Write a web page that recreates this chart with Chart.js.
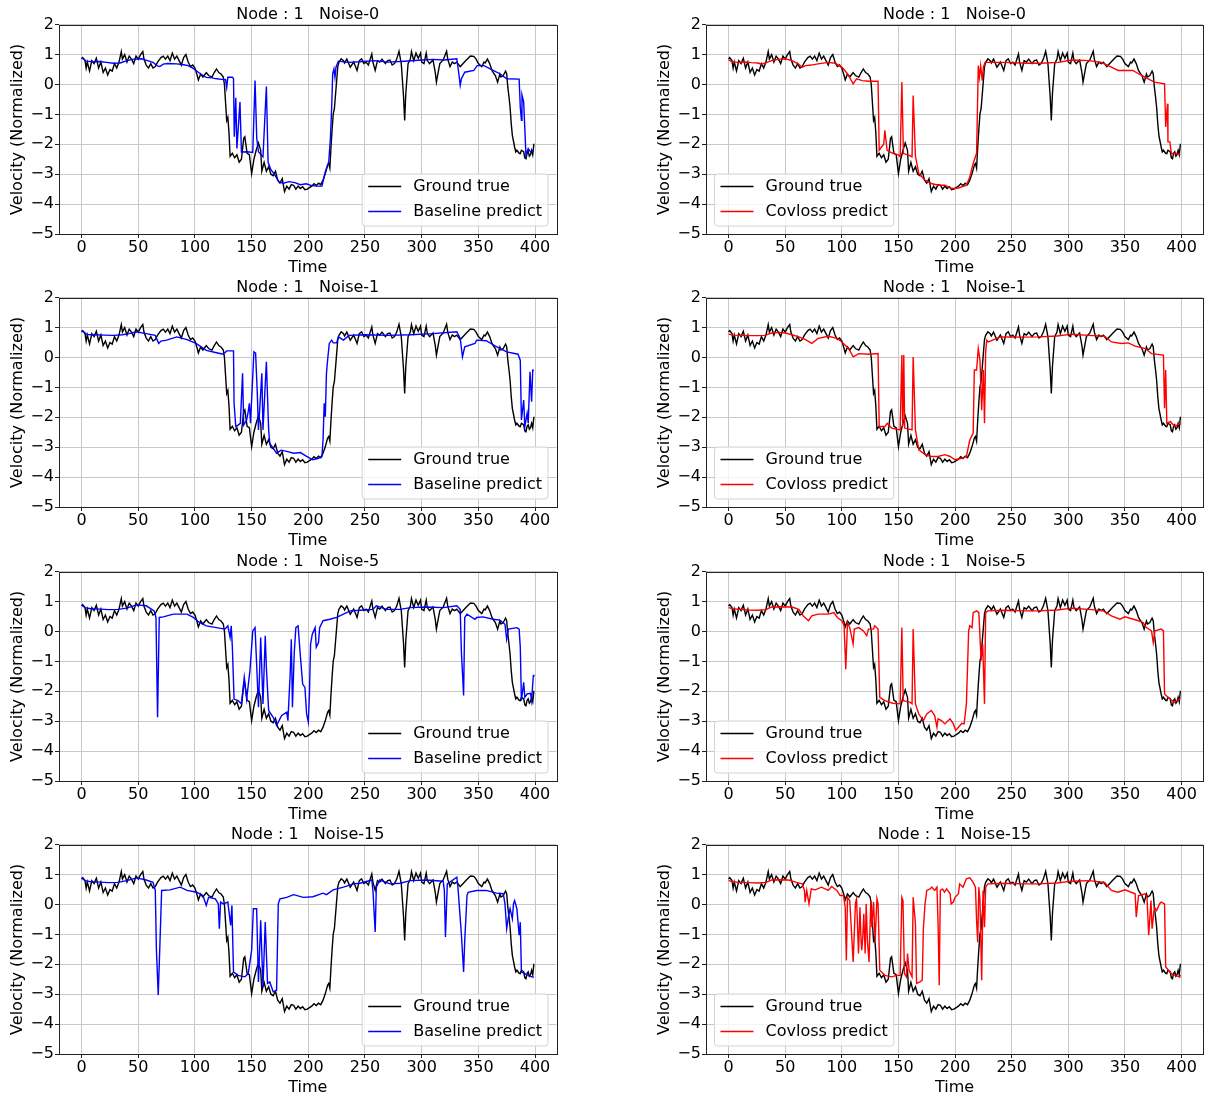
<!DOCTYPE html>
<html>
<head>
<meta charset="utf-8">
<title>Node 1 velocity predictions</title>
<script src="https://cdn.jsdelivr.net/npm/chart.js@4.4.1/dist/chart.umd.min.js"></script>
<style>
  body { margin: 0; background: #fff; width: 1208px; height: 1097px; overflow: hidden; position: relative; }
  canvas { position: absolute; }
</style>
</head>
<body>
<script>
// tick labels
const timeTicks = [0, 50, 100, 150, 200, 250, 300, 350, 400];
const velTicks = [-5, -4, -3, -2, -1, 0, 1, 2];

// [time, velocity] pairs
const groundTrue = [[0,0.85],[1,0.9],[3,0.8],[4,0.55],[5,0.75],[7,0.45],[9,0.8],[11,0.7],[13,0.88],[15,0.55],[17,0.75],[19,0.4],[21,0.55],[23,0.32],[25,0.5],[27,0.45],[29,0.7],[31,0.55],[33,0.75],[35,1.1],[36,0.85],[38,1.0],[40,0.75],[42,0.95],[44,0.85],[46,0.7],[48,0.95],[50,0.85],[52,1.0],[54,1.1],[55,0.85],[57,0.65],[59,0.55],[61,0.7],[63,0.55],[65,0.6],[67,0.75],[70,0.9],[72,0.95],[74,0.85],[76,0.95],[78,0.8],[80,1.05],[82,0.85],[84,0.95],[86,0.8],[88,0.65],[90,0.9],[92,1.0],[94,0.75],[96,0.6],[98,0.65],[100,0.55],[102,0.3],[103,0.15],[105,0.35],[107,0.25],[110,0.4],[112,0.3],[115,0.25],[117,0.4],[119,0.52],[121,0.4],[123,0.35],[125,0.25],[126,0.0],[127,-0.6],[128,-1.2],[129,-1.1],[130,-1.6],[131,-2.4],[133,-2.3],[135,-2.45],[137,-2.35],[139,-2.6],[141,-2.5],[143,-1.8],[144,-1.75],[146,-2.3],[148,-2.35],[150,-2.98],[152,-2.5],[154,-2.2],[156,-1.95],[158,-2.2],[159,-2.9],[161,-2.6],[163,-2.9],[165,-2.75],[167,-3.0],[169,-3.05],[171,-2.9],[173,-3.2],[175,-3.3],[177,-3.15],[179,-3.58],[181,-3.4],[183,-3.5],[185,-3.35],[187,-3.37],[189,-3.5],[191,-3.4],[193,-3.48],[195,-3.42],[197,-3.52],[199,-3.5],[201,-3.45],[203,-3.4],[205,-3.32],[207,-3.38],[209,-3.3],[211,-3.35],[213,-3.2],[215,-2.98],[217,-2.7],[218,-2.64],[219,-2.8],[220,-2.1],[221,-1.5],[222,-0.98],[223,-0.81],[225,0.13],[226,0.6],[227,0.74],[229,0.86],[231,0.8],[232,0.72],[234,0.85],[237,0.58],[240,0.75],[243,0.47],[245,0.8],[247,0.86],[249,0.7],[251,0.75],[253,0.65],[256,1.02],[257,0.75],[259,0.47],[261,0.8],[263,0.75],[265,0.85],[268,0.7],[270,0.8],[272,0.82],[274,0.65],[276,0.7],[278,0.85],[280,1.11],[282,0.7],[284,-0.4],[285,-1.2],[286,-0.3],[288,0.7],[290,0.85],[291,1.1],[293,0.8],[295,1.05],[297,0.88],[299,1.05],[300,0.75],[302,0.7],[304,1.05],[305,0.8],[307,0.7],[310,0.82],[312,0.4],[313,0.08],[315,0.5],[316,0.7],[319,0.82],[322,1.11],[323,0.85],[325,0.6],[327,0.75],[329,0.7],[331,0.75],[334,0.6],[337,0.72],[339,0.8],[341,0.88],[343,0.95],[346,0.94],[348,0.85],[350,0.7],[353,0.6],[355,0.75],[356,0.72],[358,0.85],[360,0.7],[362,0.47],[364,0.35],[365,0.3],[367,0.08],[369,0.35],[370,0.25],[372,0.3],[374,0.45],[375,0.36],[376,-0.09],[377,-0.4],[378,-0.76],[379,-1.3],[380,-1.7],[382,-2.09],[383,-2.25],[384,-2.2],[386,-2.3],[387,-2.31],[388,-2.2],[390,-2.25],[391,-2.45],[392,-2.48],[393,-2.3],[394,-2.25],[395,-2.4],[396,-2.35],[397,-2.2],[398,-2.35],[399,-1.98]];

const baseNoise0 = [[0,0.9],[2,0.85],[4,0.78],[10,0.76],[16,0.77],[22,0.74],[28,0.71],[34,0.72],[40,0.8],[46,0.85],[53,0.86],[58,0.8],[63,0.74],[67,0.62],[69,0.6],[72,0.68],[76,0.7],[84,0.69],[90,0.66],[94,0.63],[98,0.55],[101,0.47],[105,0.35],[110,0.24],[115,0.22],[119,0.19],[124,0.17],[127,0.16],[128,-0.1],[129,0.24],[133,0.24],[134,0.2],[134.7,-1.75],[136,-0.44],[137,-2.14],[139.7,-0.59],[141,-2.26],[146,-2.25],[151,-2.27],[153,0.13],[154.5,-1.8],[156,-2.25],[160,-2.42],[163,-0.07],[164.5,-2.6],[167,-2.85],[170,-3.0],[174,-3.25],[178,-3.3],[183,-3.25],[188,-3.28],[193,-3.35],[198,-3.32],[203,-3.38],[208,-3.4],[212,-3.4],[215,-2.92],[218,-2.59],[219.5,-1.8],[220.6,-0.76],[221.5,0.36],[222.6,0.52],[223.5,0.24],[224.4,0.58],[226.5,0.78],[235,0.74],[245,0.76],[258,0.8],[270,0.75],[285,0.78],[300,0.82],[310,0.84],[320,0.82],[331,0.86],[333,0.3],[334,-0.03],[335,0.19],[338,0.41],[346,0.47],[349,0.63],[355,0.63],[363,0.47],[369,0.36],[375,0.19],[386,0.18],[387,-0.76],[388,-1.2],[388.5,-0.35],[390,-0.59],[392,-2.37],[394,-2.14],[396,-2.25],[399,-2.2]];

const covNoise0 = [[0,0.82],[3,0.76],[8,0.74],[14,0.75],[20,0.73],[26,0.72],[29,0.68],[34,0.74],[38,0.8],[44,0.84],[50,0.86],[56,0.8],[61,0.7],[65,0.58],[68,0.63],[73,0.65],[79,0.69],[88,0.74],[94,0.71],[100,0.58],[103,0.45],[106,0.3],[110,0.02],[113,0.19],[118,0.13],[124,0.11],[132,0.11],[133,-2.2],[135,-2.09],[137,-2.0],[138,-1.53],[140,-2.2],[145,-2.3],[150,-2.35],[151.5,-2.42],[153,0.08],[154.4,-2.31],[159,-2.36],[162,-2.42],[163,-0.37],[165,-2.4],[168,-2.98],[173.5,-3.2],[179,-3.31],[185,-3.37],[191,-3.37],[197,-3.48],[203,-3.46],[210,-3.37],[213,-3.09],[216,-2.64],[219,-2.3],[220.5,0.63],[221.5,0.24],[222.6,0.63],[224,0.13],[225,0.58],[226.5,0.74],[244,0.74],[262,0.71],[275,0.71],[291,0.74],[303,0.82],[318,0.8],[329,0.74],[338,0.58],[344,0.47],[357,0.47],[362,0.36],[368,0.24],[376,0.08],[385,0.02],[386,-1.42],[387.6,-0.64],[388,-1.92],[389.7,-1.92],[391,-2.31],[396,-2.31],[399,-2.35]];

const baseNoise1 = [[0,0.9],[2,0.85],[5,0.77],[12,0.76],[20,0.75],[28,0.74],[36,0.76],[42,0.8],[48,0.86],[57,0.8],[65,0.74],[68,0.47],[70,0.55],[75,0.58],[84,0.69],[93,0.6],[101,0.47],[110,0.24],[119,0.16],[125,0.11],[128,0.22],[134,0.22],[134.5,-1.53],[136,-2.31],[138,-2.26],[140,-2.2],[142,-0.53],[143,-2.26],[145.6,-2.09],[147,-1.8],[148,-1.53],[149,-2.2],[150.5,-1.0],[152,0.19],[153.5,0.15],[155,-1.2],[156,-2.42],[159,-0.53],[160,-2.42],[163,-0.14],[165,-2.42],[166,-2.87],[172,-3.2],[176,-3.1],[181,-3.14],[187,-3.2],[193,-3.18],[198.5,-3.31],[204,-3.42],[209,-3.37],[212,-3.31],[213,-2.76],[214,-1.53],[215,-1.98],[216,-0.53],[217,-0.09],[218.5,0.47],[220.6,0.58],[222,0.49],[225,0.49],[226.5,0.69],[231,0.58],[236,0.74],[250,0.76],[270,0.74],[290,0.76],[310,0.8],[331,0.86],[334,0.64],[336,0.02],[338,0.36],[347,0.47],[348.5,0.58],[357,0.56],[366,0.36],[375,0.19],[385,0.11],[387,-0.09],[388,-2.09],[390,-1.42],[391,-2.31],[393,-1.87],[394,-2.2],[395.6,-0.48],[397,-1.48],[398,-0.42],[399,-0.44]];

const covNoise1 = [[0,0.78],[4,0.75],[10,0.74],[18,0.73],[26,0.73],[32,0.74],[38,0.82],[44,0.84],[50,0.82],[56,0.76],[62,0.69],[68,0.6],[73.5,0.47],[79,0.64],[88,0.71],[96,0.64],[100,0.52],[106,0.3],[110,0.02],[115,0.13],[124,0.11],[132,0.13],[133,-2.31],[138,-2.31],[140,-2.2],[144,-2.36],[151.5,-2.42],[153,0.08],[153.8,-2.31],[154.7,0.08],[155.5,-2.36],[162,-2.42],[163,0.02],[165,-2.42],[168,-3.09],[173.5,-3.25],[179,-3.31],[185,-3.31],[191,-3.25],[195.6,-3.31],[200,-3.42],[206,-3.37],[210,-3.31],[213,-2.76],[216,-2.53],[217,-0.42],[219,-0.42],[220.5,0.3],[222,-0.09],[223.5,-1.76],[225,-0.42],[226,-2.2],[227,0.19],[228,0.58],[229.4,0.52],[240,0.69],[260,0.68],[273.5,0.69],[290,0.72],[303,0.78],[318,0.74],[332,0.71],[338,0.52],[347,0.47],[353,0.49],[359,0.38],[368,0.3],[373.5,0.13],[384,0.08],[385,-1.7],[386,-0.42],[387,-2.2],[390,-2.14],[394,-2.31],[398.5,-2.2],[399,-2.25]];

const baseNoise5 = [[0,0.89],[3,0.8],[8,0.76],[16,0.75],[24,0.73],[32,0.74],[40,0.78],[48.5,0.89],[57,0.86],[64,0.69],[65.6,0.47],[67,-2.87],[68.5,0.47],[72,0.49],[81,0.58],[93,0.58],[98.5,0.47],[104,0.3],[110,0.19],[119,0.13],[126.5,0.08],[129,0.19],[131,-0.2],[132,0.19],[133,-0.53],[134.5,-2.26],[138,-2.31],[141,-2.42],[143.5,-1.53],[145.6,-2.26],[148.5,-1.31],[151,0.02],[153,0.13],[154.4,-1.09],[156,-2.53],[158,-0.2],[160,-2.42],[162,-0.14],[163,-1.2],[165,-2.64],[169,-2.87],[172,-3.14],[176.5,-2.81],[181,-2.7],[182,-2.98],[184,-1.42],[185,-0.26],[186,-2.53],[187.6,-0.7],[189,0.13],[191,0.19],[192.6,-0.64],[195,-1.76],[197,-1.87],[198.5,-2.76],[200,-3.03],[201,-2.09],[202,-0.42],[203.5,-0.09],[206,0.13],[207,-0.53],[209,-0.37],[210,0.13],[213,0.36],[219,0.41],[225,0.47],[231,0.58],[237,0.69],[245.6,0.71],[257,0.74],[260,0.86],[269,0.74],[281,0.74],[290,0.8],[304,0.82],[319,0.8],[331,0.86],[334,0.74],[335,-0.64],[337,-2.14],[338,0.47],[340,0.58],[347,0.41],[348.5,0.47],[354,0.49],[363,0.41],[369,0.38],[373.5,0.24],[375,-0.26],[376.5,0.08],[384,0.13],[386,0.08],[387,-0.53],[388,-2.31],[390,-1.7],[391,-2.2],[393,-2.09],[396,-2.07],[397,-2.31],[398.5,-1.48],[399,-1.45]];

const covNoise5 = [[0,0.8],[4,0.76],[10,0.74],[18,0.72],[26,0.71],[33,0.73],[38,0.82],[46,0.83],[56,0.82],[62,0.74],[66,0.52],[70.6,0.36],[73.5,0.52],[79,0.58],[88,0.58],[93,0.63],[96,0.47],[100,0.36],[102,0.19],[103.5,-1.26],[105,0.3],[107,0.13],[110,-0.42],[111,0.08],[115,0.13],[119,0.02],[122,-0.14],[123.5,0.08],[128,0.08],[129,0.19],[132,0.08],[133.5,-2.2],[138,-2.31],[145,-2.4],[151.5,-2.42],[153,0.13],[154.2,-2.31],[160,-2.36],[162,-2.42],[163,0.08],[165,-2.42],[168,-2.76],[172,-2.98],[175,-2.76],[179,-2.64],[182,-2.81],[184,-3.2],[185,-2.92],[188,-2.98],[191,-3.09],[195.6,-2.92],[198.5,-3.09],[200.6,-3.31],[203,-3.2],[206,-3.07],[208,-3.09],[210,-2.42],[212,0.02],[213,0.19],[215,0.13],[216,0.63],[219,0.69],[221,0.63],[223,-0.98],[224.4,-0.42],[226,-2.42],[227,0.63],[229,0.69],[244,0.71],[260,0.69],[273.5,0.69],[290,0.72],[303,0.78],[318,0.74],[331,0.69],[338,0.52],[345.6,0.41],[350,0.49],[362,0.36],[366,0.3],[369,0.13],[373.5,0.02],[375,-0.37],[376.5,0.02],[382,0.08],[384,0.02],[385,-2.09],[389.7,-2.26],[394,-2.37],[398.5,-2.25],[399,-2.25]];

const baseNoise15 = [[0,0.89],[3,0.8],[8,0.76],[16,0.75],[24,0.73],[32,0.74],[40,0.8],[48.5,0.89],[57,0.82],[63,0.74],[65,0.47],[66,-1.53],[67.6,-3.03],[69,-1.42],[70.6,0.47],[78,0.49],[87,0.58],[93,0.47],[101.5,0.41],[107,0.3],[110,-0.03],[112,0.24],[118,0.19],[120.6,0.02],[121.5,-0.81],[122.6,0.08],[125,0.02],[129,0.08],[131.5,-0.7],[132.6,-0.03],[134,-2.26],[138,-2.37],[144,-2.42],[147,-2.31],[150,-1.53],[151.5,-0.14],[154.4,-0.14],[156,-2.59],[158,-0.53],[160,-2.76],[162,-0.59],[164,-2.64],[166,-2.59],[169,-2.92],[172,-2.87],[173.5,0.02],[175,0.19],[181,0.24],[187,0.33],[195.6,0.24],[204,0.26],[213,0.38],[216,0.33],[222,0.49],[231,0.58],[240,0.69],[245.6,0.71],[256,0.82],[257,0.47],[259,-0.92],[260,0.58],[263,0.82],[272,0.69],[281,0.71],[290,0.8],[304,0.82],[319,0.78],[320,0.47],[321,-1.09],[322.6,0.69],[331,0.91],[332,0.58],[335,-0.98],[337,-2.26],[338,-1.2],[340,0.3],[341,0.41],[348.5,0.47],[357,0.47],[366,0.38],[372,0.36],[373.5,0.02],[375,-0.81],[376.5,-0.42],[378,-0.14],[380,-0.48],[381,0.02],[382,0.13],[384,-0.14],[386,-1.03],[387,-0.59],[388,-2.26],[391,-2.31],[394,-2.37],[397,-2.42],[399,-2.42]];

const covNoise15 = [[0,0.8],[4,0.76],[10,0.74],[18,0.73],[26,0.72],[33,0.74],[38,0.82],[46,0.83],[53,0.82],[60,0.74],[65,0.69],[67,0.47],[67.6,0.08],[69,0.47],[71,0.02],[73,0.52],[76.5,0.49],[82,0.58],[88,0.47],[91,0.6],[95.6,0.47],[98.5,0.3],[101.5,0.3],[103,-0.09],[104,-1.87],[105,0.24],[107,0.13],[110,-1.92],[112,0.02],[113,0.19],[114.7,-1.64],[116,-0.09],[117,-1.2],[117.6,-1.53],[118.5,-1.09],[119.4,-0.31],[120.6,-1.64],[121.5,0.02],[122.6,-1.2],[124,-1.92],[125.6,0.13],[126.5,-0.76],[128,0.08],[129.4,-1.2],[131,0.19],[132,0.02],[133.5,-2.2],[138,-2.37],[144,-2.42],[148.5,-2.37],[151.5,-2.37],[153,0.24],[154,0.13],[155.3,-2.31],[157,-2.42],[158,-1.64],[159.4,-2.2],[162,-2.42],[163,0.24],[165,-0.64],[166,-2.64],[169,-2.59],[171,-2.53],[172,-0.81],[173.5,0.02],[175,0.47],[178,0.52],[179.4,0.58],[182,0.47],[184,0.58],[185,-0.64],[186,-2.7],[187,0.47],[189,0.52],[190.6,0.41],[192.6,0.52],[195.6,0.36],[196.5,0.02],[198.5,0.08],[200,0.24],[203,0.36],[204,0.69],[207,0.58],[210,0.86],[213,0.89],[216,0.74],[218,0.58],[219,-0.53],[220,-1.26],[221,0.58],[222,0.13],[223.5,-2.53],[224.7,0.47],[226,-0.76],[227,0.58],[229,0.69],[244,0.71],[260,0.69],[273.5,0.69],[290,0.72],[303,0.78],[318,0.8],[332,0.74],[338,0.47],[344,0.41],[350,0.49],[359,0.36],[360,-0.42],[362,0.3],[368,0.36],[369.5,0.24],[371,-1.03],[373,0.13],[374,-0.81],[376,-0.09],[378,-0.2],[380.5,0.02],[382,0.08],[385,0.02],[386,-2.09],[391,-2.31],[394,-2.37],[398.5,-2.42],[399,-2.35]];

const panels = [
  { title: 'Node : 1   Noise-0',  name: 'Baseline predict', color: '#0000ff', values: baseNoise0 },
  { title: 'Node : 1   Noise-0',  name: 'Covloss predict',  color: '#ff0000', values: covNoise0 },
  { title: 'Node : 1   Noise-1',  name: 'Baseline predict', color: '#0000ff', values: baseNoise1 },
  { title: 'Node : 1   Noise-1',  name: 'Covloss predict',  color: '#ff0000', values: covNoise1 },
  { title: 'Node : 1   Noise-5',  name: 'Baseline predict', color: '#0000ff', values: baseNoise5 },
  { title: 'Node : 1   Noise-5',  name: 'Covloss predict',  color: '#ff0000', values: covNoise5 },
  { title: 'Node : 1   Noise-15', name: 'Baseline predict', color: '#0000ff', values: baseNoise15 },
  { title: 'Node : 1   Noise-15', name: 'Covloss predict',  color: '#ff0000', values: covNoise15 }
];

Chart.defaults.font.family = "'DejaVu Sans'";
Chart.defaults.font.size = 16;
Chart.defaults.color = '#000';

const FONT = { family: "'DejaVu Sans'", size: 16 };
const rowTops = [0, 273, 547, 820];

function toPoints(arr) {
  return arr.map(p => ({ x: p[0], y: p[1] }));
}

// black frame round the plot area
const spines = {
  id: 'spines',
  afterDatasetsDraw(chart) {
    const a = chart.chartArea, ctx = chart.ctx;
    ctx.save();
    ctx.strokeStyle = '#222';
    ctx.lineWidth = 1;
    ctx.strokeRect(Math.round(a.left) + 0.5, Math.round(a.top) + 0.5,
      Math.round(a.right - a.left), Math.round(a.bottom - a.top));
    ctx.restore();
  }
};

// framed legend inside the plot, lower right or lower left
function boxLegend(side) {
  return {
    id: 'boxLegend',
    afterDraw(chart) {
      const a = chart.chartArea, ctx = chart.ctx;
      const items = chart.data.datasets.map(d => ({ label: d.label, color: d.borderColor }));
      ctx.save();
      ctx.font = "16px 'DejaVu Sans'";
      const textW = Math.max(...items.map(it => ctx.measureText(it.label).width));
      const w = 51 + textW + 6, h = 52;
      const x = side === 'right' ? a.right - 8.5 - w : a.left + 8.5;
      const y = a.bottom - 8 - h;
      ctx.beginPath();
      ctx.roundRect(x, y, w, h, 3);
      ctx.fillStyle = 'rgba(255,255,255,0.8)';
      ctx.fill();
      ctx.strokeStyle = '#d4d4d4';
      ctx.lineWidth = 1;
      ctx.stroke();
      items.forEach((it, i) => {
        const cy = y + 12.5 + i * 25;
        ctx.beginPath();
        ctx.moveTo(x + 6, cy);
        ctx.lineTo(x + 39, cy);
        ctx.strokeStyle = it.color;
        ctx.lineWidth = 1.5;
        ctx.stroke();
        ctx.fillStyle = '#000';
        ctx.textBaseline = 'middle';
        ctx.textAlign = 'left';
        ctx.fillText(it.label, x + 51, cy);
      });
      ctx.restore();
    }
  };
}

function makeChart(panel, idx) {
  const col = idx % 2, row = Math.floor(idx / 2);
  const cv = document.createElement('canvas');
  const left = col === 0 ? 0 : 647;
  const width = col === 0 ? 570 : 561;
  cv.width = width;
  cv.height = 277;
  cv.style.left = left + 'px';
  cv.style.top = rowTops[row] + 'px';
  document.body.appendChild(cv);

  return new Chart(cv, {
    type: 'line',
    data: {
      datasets: [{
        label: 'Ground true',
        data: toPoints(groundTrue),
        borderColor: '#000000',
        borderWidth: 1.4,
        pointRadius: 0,
        tension: 0,
        order: 2
      }, {
        label: panel.name,
        data: toPoints(panel.values),
        borderColor: panel.color,
        borderWidth: 1.4,
        pointRadius: 0,
        tension: 0,
        order: 1
      }]
    },
    options: {
      responsive: false,
      animation: false,
      devicePixelRatio: 1,
      events: [],
      layout: { padding: { left: 0, right: col === 0 ? 13.5 : 5, top: 0, bottom: 0 } },
      plugins: {
        legend: { display: false },
        tooltip: { enabled: false },
        title: {
          display: true,
          text: panel.title,
          fullSize: false,
          color: '#000',
          font: { family: FONT.family, size: 16, weight: 'normal', lineHeight: 1.2 },
          padding: { top: 5.5, bottom: 0 }
        }
      },
      scales: {
        x: {
          type: 'linear',
          min: -19.95,
          max: 418.95,
          afterBuildTicks: s => { s.ticks = timeTicks.map(v => ({ value: v })); },
          afterFit: s => { s.height = 43; },
          border: { display: false },
          grid: { color: '#c8c8c8', lineWidth: 1, drawTicks: true, tickLength: 4, tickColor: '#222', tickWidth: 1 },
          ticks: { font: FONT, color: '#000', padding: 0, autoSkip: false, maxRotation: 0 },
          title: { display: true, text: 'Time', font: FONT, color: '#000', padding: { top: 0, bottom: 0 } }
        },
        y: {
          type: 'linear',
          min: -5,
          max: 2,
          afterBuildTicks: s => { s.ticks = velTicks.map(v => ({ value: v })); },
          afterFit: s => { s.width = 59; },
          border: { display: false },
          grid: { color: '#c8c8c8', lineWidth: 1, drawTicks: true, tickLength: 4, tickColor: '#222', tickWidth: 1 },
          ticks: {
            font: FONT, color: '#000', padding: 1,
            callback: v => String(v).replace('-', '\u2212')
          },
          title: { display: true, text: 'Velocity (Normalized)', font: FONT, color: '#000', padding: { top: 8.7, bottom: 0 } }
        }
      }
    },
    plugins: [spines, boxLegend(col === 0 ? 'right' : 'left')]
  });
}

panels.forEach((p, i) => makeChart(p, i));
</script>
</body>
</html>
